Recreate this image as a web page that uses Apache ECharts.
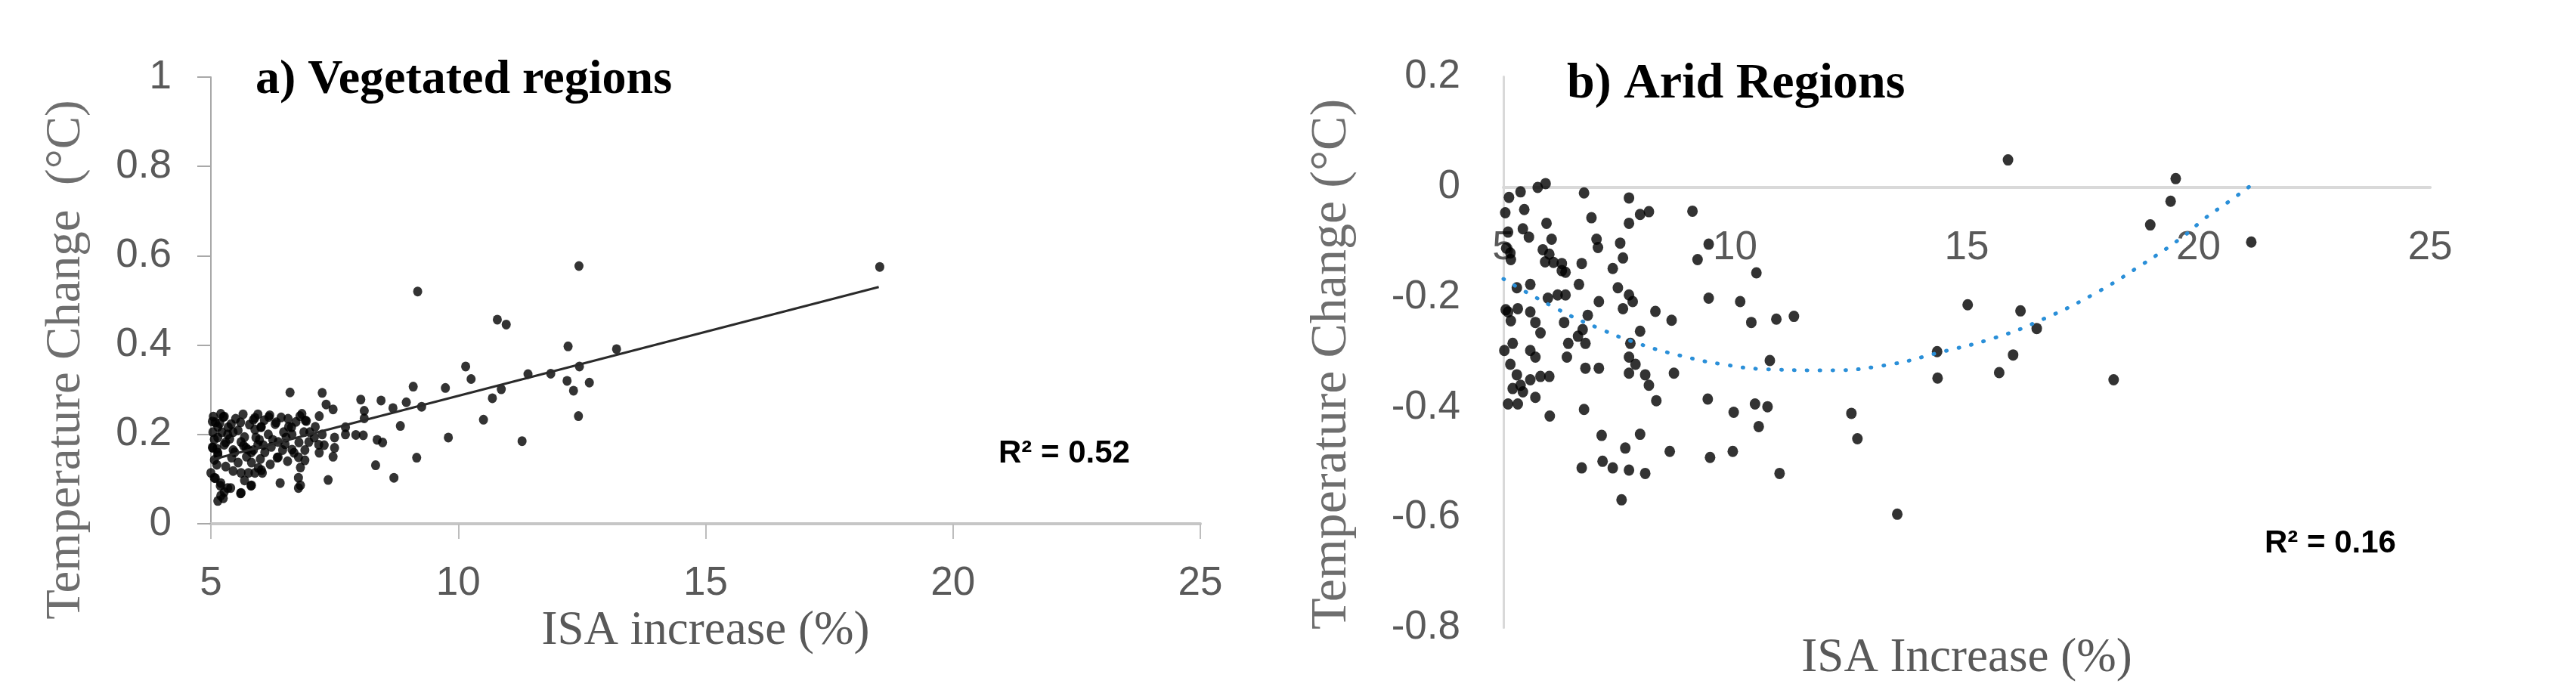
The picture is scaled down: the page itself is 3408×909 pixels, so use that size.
<!DOCTYPE html>
<html>
<head>
<meta charset="utf-8">
<script src="https://cdn.jsdelivr.net/npm/echarts@6/dist/echarts.min.js"></script>
<style>
html,body{margin:0;padding:0;background:#ffffff;}
#chart{width:3408px;height:909px;}
</style>
</head>
<body>
<div id="chart"></div>
<script>
// ---------- DATA ----------
// a) Vegetated regions: [ISA increase (%), temperature change (°C)]
const vegetated = [
  [9.18,0.52],[10.79,0.457],[10.97,0.446],[12.22,0.397],[12.45,0.352],[10.15,0.352],[10.26,0.324],
  [11.41,0.335],[11.87,0.336],[12.2,0.32],[12.33,0.298],[12.43,0.241],[10.87,0.301],[10.69,0.281],
  [10.51,0.233],[11.29,0.185],[9.74,0.304],[9.8,0.193],[9.09,0.307],[9.26,0.262],[8.95,0.272],
  [8.68,0.259],[8.44,0.276],[8.03,0.278],[8.1,0.253],[8.1,0.236],[8.83,0.219],[9.16,0.148],
  [8.7,0.103],[8.33,0.131],[8.36,0.188],[8.47,0.182],[7.93,0.199],[8.08,0.198],[7.72,0.216],
  [7.72,0.2],[7.5,0.193],[7.5,0.17],[7.47,0.15],[7.37,0.098],[7.25,0.293],[6.6,0.294],[7.33,0.267],
  [7.47,0.256],[7.19,0.241],[6.8,0.241],[6.93,0.23],[7.19,0.159],[7.29,0.176],[7.09,0.193],
  [12.44,0.577],[18.52,0.575],[13.2,0.391],[12.65,0.316],
  [5.27,0.24],[5.89,0.237],[6.19,0.243],[5.14,0.217],[5.55,0.209],[5.89,0.211],[6.3,0.223],
  [6.57,0.217],[6.84,0.246],[6.91,0.231],[7.11,0.217],[6.64,0.2],[6.16,0.2],[5.61,0.183],
  [5.27,0.177],[5.07,0.189],[5.95,0.177],[6.36,0.183],[6.98,0.183],[7.25,0.2],[7.18,0.177],
  [6.64,0.166],[6.36,0.149],[6.09,0.16],[5.75,0.166],[5.48,0.16],[5.14,0.154],[5.07,0.143],
  [5.34,0.2],[5.68,0.194],[5.41,0.223],[6.02,0.217],[5.2,0.246],[5.03,0.229],[5.03,0.171],
  [5.82,0.16],[6.77,0.149],
  [5.55,0.137],[5.82,0.137],[6.02,0.12],[5.61,0.114],[5.89,0.114],[5.68,0.097],[5.82,0.086],
  [5.61,0.069],[5.34,0.08],[5.2,0.063],[5.14,0.051],[5.0,0.114],[5.07,0.103],[5.2,0.091],
  [5.27,0.071],[6.4,0.091],[6.81,0.086],[6.81,0.126],[6.77,0.103],
  [6.88,0.205],[6.78,0.182],[6.68,0.159],[6.34,0.148],[6.52,0.193],[6.63,0.216],[6.47,0.205],
  [6.17,0.239],[6.32,0.227],[5.86,0.233],[6.01,0.216],[5.91,0.193],[6.06,0.176],[5.86,0.165],
  [5.6,0.227],[5.45,0.205],[5.3,0.182],[5.14,0.193],[5.04,0.205],[5.25,0.239],[5.09,0.227],
  [5.35,0.216],[5.04,0.17],[5.14,0.159],[5.45,0.165],[5.71,0.17],[5.76,0.114],[5.96,0.125],
  [6.04,0.114],[5.81,0.085],[5.6,0.068],[5.09,0.102],[5.19,0.085],[5.25,0.057],[5.4,0.08],
  [6.77,0.08],
  [5.22,0.205],[5.5,0.235],[5.78,0.222],[6.08,0.232],[6.42,0.238],[6.72,0.228],[5.38,0.19],
  [5.66,0.175],[5.98,0.188],[6.22,0.172],[6.5,0.178],[6.9,0.165],[5.12,0.168],[5.42,0.148],
  [5.72,0.15],[6.0,0.145],[6.25,0.188],[6.56,0.235],[7.0,0.205],[5.95,0.245],[5.05,0.24],
  [5.3,0.128],[5.45,0.118],[5.12,0.132],[6.2,0.133],[6.55,0.14],[6.9,0.142],[5.65,0.245],
  [6.45,0.165],[5.18,0.225]
];
// linear trend line of panel a (end points)
const vegTrend = [[5.0,0.143],[18.5,0.53]];

// b) Arid regions: [ISA increase (%), temperature change (°C)]
const arid = [
  [5.12,-0.019],[5.37,-0.009],[5.74,-0.001],[5.91,0.006],[6.74,-0.011],[7.71,-0.02],[9.08,-0.044],
  [5.04,-0.047],[5.45,-0.041],[6.9,-0.056],[7.71,-0.066],[7.95,-0.05],[8.14,-0.045],[5.93,-0.066],
  [6.04,-0.095],[5.42,-0.076],[5.55,-0.091],[5.1,-0.082],[5.15,-0.12],[7.01,-0.095],[7.04,-0.11],
  [7.52,-0.102],[7.58,-0.129],[5.85,-0.114],[5.9,-0.136],[6.26,-0.139],[6.34,-0.155],[6.69,-0.139],
  [7.36,-0.148],[9.19,-0.132],[9.43,-0.104],[10.46,-0.156],[5.29,-0.183],[5.58,-0.177],[6.63,-0.177],
  [7.06,-0.208],[7.47,-0.183],[7.71,-0.196],[7.79,-0.208],[7.58,-0.221],[9.43,-0.202],[10.11,-0.208],
  [10.35,-0.246],[10.89,-0.24],[11.27,-0.235],[8.28,-0.226],[8.63,-0.242],[5.96,-0.202],[6.17,-0.196],
  [6.34,-0.196],[5.1,-0.227],[5.31,-0.221],[5.58,-0.227],[5.69,-0.246],[5.8,-0.265],[6.31,-0.246],
  [6.82,-0.233],[6.71,-0.259],[6.61,-0.271],[6.77,-0.284],[6.4,-0.284],[6.37,-0.309],[7.95,-0.262],
  [7.74,-0.284],[7.71,-0.309],[7.85,-0.322],[7.71,-0.338],[8.06,-0.341],[8.14,-0.36],[8.3,-0.388],
  [8.68,-0.338],[9.41,-0.385],[9.97,-0.409],[10.43,-0.394],[10.7,-0.399],[10.51,-0.435],[10.75,-0.315],
  [5.02,-0.297],[5.2,-0.284],[5.58,-0.297],[5.69,-0.309],[5.15,-0.322],[5.29,-0.341],[5.37,-0.36],
  [5.58,-0.35],[5.8,-0.344],[5.99,-0.344],[5.2,-0.366],[5.42,-0.372],[5.69,-0.382],[5.1,-0.394],
  [5.31,-0.394],[6.0,-0.416],[6.74,-0.404],[6.77,-0.329],[7.06,-0.329],[7.12,-0.451],[6.69,-0.51],
  [7.14,-0.498],[7.36,-0.51],[7.63,-0.474],[7.95,-0.449],[7.71,-0.514],[8.06,-0.52],[7.55,-0.568],
  [8.59,-0.48],[9.46,-0.491],[9.95,-0.48],[10.96,-0.52],
  [5.06,-0.111],[5.16,-0.132],[5.05,-0.223],[5.16,-0.243],[5.99,-0.122],[6.08,-0.137],[6.26,-0.152],
  [15.89,0.049],[19.51,0.015],[19.4,-0.026],[18.96,-0.069],[15.02,-0.214],[16.16,-0.225],[16.51,-0.257],
  [14.36,-0.299],[16.0,-0.305],[15.7,-0.337],[14.37,-0.347],[18.17,-0.35],[12.51,-0.411],[12.64,-0.457],
  [13.5,-0.594],[21.14,-0.1]
];
// dotted polynomial trend of panel b
const aridTrend = [
  [5.0,-0.167],[6.17,-0.222],[7.04,-0.256],[7.9,-0.284],[8.81,-0.306],[9.73,-0.322],[10.7,-0.331],
  [11.94,-0.333],[13.22,-0.324],[14.39,-0.301],[15.64,-0.273],[16.54,-0.244],[17.71,-0.196],
  [18.8,-0.14],[19.67,-0.09],[20.14,-0.057],[20.65,-0.027],[21.17,0.005]
];

// tick labels
const xTicks = [5, 10, 15, 20, 25];
const vegYTicks = [0, 0.2, 0.4, 0.6, 0.8, 1];
const aridYTicks = [-0.8, -0.6, -0.4, -0.2, 0, 0.2];

const titleA = 'a) Vegetated regions';
const titleB = 'b) Arid Regions';
const r2A = 'R\u00B2 = 0.52';
const r2B = 'R\u00B2 = 0.16';

// ---------- CHART ----------
const serif = '"Liberation Serif","Times New Roman",serif';
const sans = '"Liberation Sans",Arial,sans-serif';
const tickGray = '#595959';
const step = arr => Math.round((arr[1] - arr[0]) * 1000) / 1000;
const fmt = v => String(Math.round(v * 10) / 10);

// layout of the two plot areas
const gridA = {left: 279, top: 102, width: 1309, height: 591};
const gridB = {left: 1989, top: 101.5, width: 1226, height: 729};
// in panel b the x axis sits on y = 0: shift it up from the bottom edge
const yMinB = aridYTicks[0], yMaxB = aridYTicks[aridYTicks.length - 1];
const zeroOffsetB = -gridB.height * (0 - yMinB) / (yMaxB - yMinB);

const chart = echarts.init(document.getElementById('chart'), null, {renderer: 'canvas'});

const option = {
  animation: false,
  backgroundColor: '#ffffff',
  grid: [
    Object.assign({outerBoundsMode: 'none', containLabel: false}, gridA),
    Object.assign({outerBoundsMode: 'none', containLabel: false}, gridB)
  ],
  xAxis: [
    {
      type: 'value', gridIndex: 0,
      min: xTicks[0], max: xTicks[xTicks.length - 1], interval: step(xTicks),
      axisLine: {show: true, lineStyle: {color: '#c6c6c6', width: 4}},
      axisTick: {show: true, inside: false, length: 20, lineStyle: {color: '#bdbdbd', width: 2}},
      axisLabel: {margin: 53, fontSize: 53, color: tickGray, fontFamily: sans, formatter: fmt},
      splitLine: {show: false},
      name: 'ISA increase (%)', nameLocation: 'middle', nameGap: 100,
      nameTextStyle: {fontFamily: serif, fontSize: 63, color: tickGray}
    },
    {
      type: 'value', gridIndex: 1, position: 'bottom', offset: zeroOffsetB,
      min: xTicks[0], max: xTicks[xTicks.length - 1], interval: step(xTicks),
      axisLine: {show: true, onZero: false, lineStyle: {color: '#d9d9d9', width: 4}},
      axisTick: {show: false},
      axisLabel: {margin: 55, fontSize: 53, color: tickGray, fontFamily: sans, formatter: fmt},
      splitLine: {show: false},
      name: 'ISA Increase (%)', nameLocation: 'middle', nameGap: 593,
      nameTextStyle: {fontFamily: serif, fontSize: 63, color: tickGray}
    }
  ],
  yAxis: [
    {
      type: 'value', gridIndex: 0,
      min: vegYTicks[0], max: vegYTicks[vegYTicks.length - 1], interval: step(vegYTicks),
      axisLine: {show: true, lineStyle: {color: '#a8a8a8', width: 2}},
      axisTick: {show: true, inside: false, length: 18, lineStyle: {color: '#a8a8a8', width: 2}},
      axisLabel: {margin: 52, fontSize: 53, color: tickGray, fontFamily: sans, formatter: fmt},
      splitLine: {show: false}
    },
    {
      type: 'value', gridIndex: 1,
      min: yMinB, max: yMaxB, interval: step(aridYTicks),
      axisLine: {show: true, onZero: false, lineStyle: {color: '#d9d9d9', width: 3}},
      axisTick: {show: false},
      axisLabel: {margin: 57, fontSize: 53, color: tickGray, fontFamily: sans, formatter: fmt},
      splitLine: {show: false}
    }
  ],
  series: [
    {
      type: 'scatter', xAxisIndex: 0, yAxisIndex: 0, data: vegetated,
      symbol: 'circle', symbolSize: [12, 13], itemStyle: {color: '#000000'}, z: 2
    },
    {
      type: 'line', xAxisIndex: 0, yAxisIndex: 0, data: vegTrend,
      symbol: 'none', lineStyle: {color: '#2a2a2a', width: 3}, z: 3
    },
    {
      type: 'scatter', xAxisIndex: 1, yAxisIndex: 1, data: arid,
      symbol: 'circle', symbolSize: [14, 15], itemStyle: {color: '#000000'}, z: 2
    },
    {
      type: 'line', xAxisIndex: 1, yAxisIndex: 1, data: aridTrend, smooth: true,
      symbol: 'none', lineStyle: {color: '#2a8fd8', width: 5, type: [1, 16], cap: 'round'}, z: 3
    }
  ],
  graphic: [
    {type: 'text', x: 88, y: 476, rotation: Math.PI / 2,
     style: {text: 'Temperature Change  (\u00B0C)', fontFamily: serif, fontSize: 65, fill: '#6e6e6e', align: 'center', verticalAlign: 'middle'}},
    {type: 'text', x: 1762, y: 482, rotation: Math.PI / 2,
     style: {text: 'Temperature Change (\u00B0C)', fontFamily: serif, fontSize: 68, fill: '#6e6e6e', align: 'center', verticalAlign: 'middle'}},
    {type: 'text', x: 338, y: 106,
     style: {text: titleA, fontFamily: serif, fontWeight: 'bold', fontSize: 64, fill: '#000000', align: 'left', verticalAlign: 'middle'}},
    {type: 'text', x: 2073, y: 112,
     style: {text: titleB, fontFamily: serif, fontWeight: 'bold', fontSize: 66, fill: '#000000', align: 'left', verticalAlign: 'middle'}},
    {type: 'text', x: 1321, y: 600,
     style: {text: r2A, fontFamily: sans, fontWeight: 'bold', fontSize: 42, fill: '#000000', align: 'left', verticalAlign: 'middle'}},
    {type: 'text', x: 2996, y: 719,
     style: {text: r2B, fontFamily: sans, fontWeight: 'bold', fontSize: 42, fill: '#000000', align: 'left', verticalAlign: 'middle'}}
  ]
};

chart.setOption(option);
</script>
</body>
</html>
